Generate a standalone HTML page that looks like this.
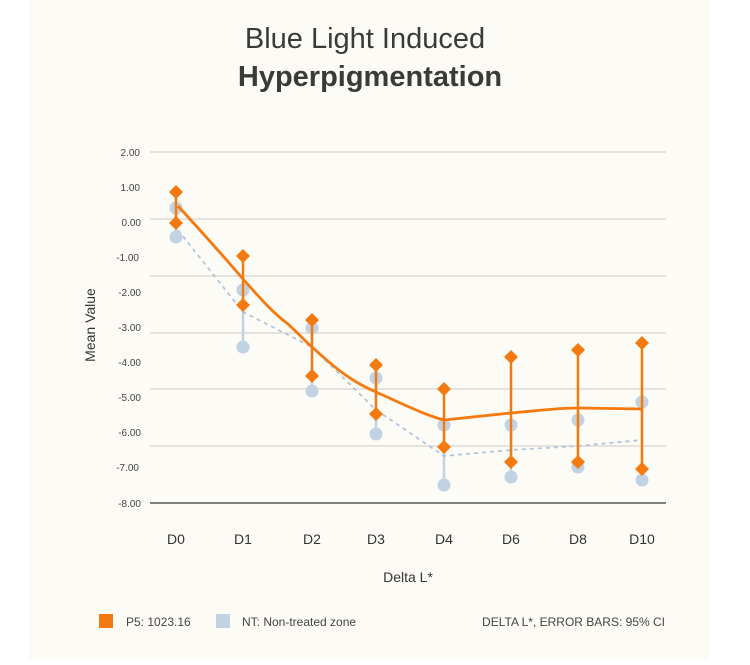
<!DOCTYPE html>
<html><head><style>
body{margin:0;background:#fff;width:750px;height:660px;overflow:hidden;font-family:"Liberation Sans",sans-serif}
</style></head><body>
<svg width="750" height="660" xmlns="http://www.w3.org/2000/svg" font-family="Liberation Sans, sans-serif">
<rect x="29" y="0" width="680" height="660" fill="#fdfbf6"/>
<text x="365" y="48" text-anchor="middle" font-size="29" fill="#3a3a3a">Blue Light Induced</text>
<text x="370" y="86" text-anchor="middle" font-size="29" font-weight="bold" fill="#3a3a3a">Hyperpigmentation</text>
<g stroke="#dedbd5" stroke-width="1.5">
<line x1="150" x2="666" y1="152" y2="152"/><line x1="150" x2="666" y1="219" y2="219"/>
<line x1="150" x2="666" y1="276" y2="276"/><line x1="150" x2="666" y1="333" y2="333"/>
<line x1="150" x2="666" y1="389" y2="389"/><line x1="150" x2="666" y1="446" y2="446"/>
</g>
<line x1="150" x2="666" y1="503" y2="503" stroke="#555" stroke-width="1.5"/>
<g font-size="10" fill="#444" text-anchor="end">
<text x="140" y="156">2.00</text><text x="140" y="191">1.00</text><text x="141" y="226">0.00</text>
<text x="139" y="261">-1.00</text><text x="141" y="296">-2.00</text><text x="141" y="331">-3.00</text>
<text x="141" y="366">-4.00</text><text x="141" y="401">-5.00</text><text x="141" y="436">-6.00</text>
<text x="139" y="471">-7.00</text><text x="141" y="507">-8.00</text>
</g>
<text transform="translate(95,325) rotate(-90)" text-anchor="middle" font-size="14" fill="#333">Mean Value</text>
<g font-size="14" fill="#333" text-anchor="middle">
<text x="176" y="544">D0</text><text x="243" y="544">D1</text><text x="312" y="544">D2</text><text x="376" y="544">D3</text>
<text x="444" y="544">D4</text><text x="511" y="544">D6</text><text x="578" y="544">D8</text><text x="642" y="544">D10</text>
<text x="408" y="582">Delta L*</text>
</g>
<g stroke="#c1d2e2" stroke-width="2.5">
<line x1="176" x2="176" y1="208" y2="237"/><line x1="243" x2="243" y1="290" y2="347"/>
<line x1="312" x2="312" y1="328" y2="391"/><line x1="376" x2="376" y1="378" y2="434"/>
<line x1="444" x2="444" y1="425" y2="485"/><line x1="511" x2="511" y1="425" y2="477"/>
<line x1="578" x2="578" y1="420" y2="467"/><line x1="642" x2="642" y1="402" y2="480"/>
</g>
<polyline points="178,230 243,312 312,347 376,410 444,456 511,450 578,446 642,440" fill="none" stroke="#b0c5dc" stroke-width="1.8" stroke-dasharray="4,4"/>
<g fill="#c1d2e2">
<circle cx="176" cy="208" r="6.5"/><circle cx="176" cy="237" r="6.5"/>
<circle cx="243" cy="290" r="6.5"/><circle cx="243" cy="347" r="6.5"/>
<circle cx="312" cy="328" r="6.5"/><circle cx="312" cy="391" r="6.5"/>
<circle cx="376" cy="378" r="6.5"/><circle cx="376" cy="434" r="6.5"/>
<circle cx="444" cy="425" r="6.5"/><circle cx="444" cy="485" r="6.5"/>
<circle cx="511" cy="425" r="6.5"/><circle cx="511" cy="477" r="6.5"/>
<circle cx="578" cy="420" r="6.5"/><circle cx="578" cy="467" r="6.5"/>
<circle cx="642" cy="402" r="6.5"/><circle cx="642" cy="480" r="6.5"/>
</g>
<path d="M178,206 C200,230 225,258 243,279 C260,298 272,312 288,324 C300,335 306,342 312,347 C335,368 352,382 376,392 C405,405 425,415 444,420 L511,413 C535,411 555,408 578,408 L642,409" fill="none" stroke="#f47a10" stroke-width="2.8"/>
<g stroke="#f47a10" stroke-width="2.5">
<line x1="176" x2="176" y1="192" y2="223"/><line x1="243" x2="243" y1="256" y2="305"/>
<line x1="312" x2="312" y1="320" y2="376"/><line x1="376" x2="376" y1="365" y2="414"/>
<line x1="444" x2="444" y1="389" y2="447"/><line x1="511" x2="511" y1="357" y2="462"/>
<line x1="578" x2="578" y1="350" y2="462"/><line x1="642" x2="642" y1="343" y2="469"/>
</g>
<g fill="#f47a10">
<path d="M176,185 l7,7 l-7,7 l-7,-7z"/><path d="M176,216 l7,7 l-7,7 l-7,-7z"/>
<path d="M243,249 l7,7 l-7,7 l-7,-7z"/><path d="M243,298 l7,7 l-7,7 l-7,-7z"/>
<path d="M312,313 l7,7 l-7,7 l-7,-7z"/><path d="M312,369 l7,7 l-7,7 l-7,-7z"/>
<path d="M376,358 l7,7 l-7,7 l-7,-7z"/><path d="M376,407 l7,7 l-7,7 l-7,-7z"/>
<path d="M444,382 l7,7 l-7,7 l-7,-7z"/><path d="M444,440 l7,7 l-7,7 l-7,-7z"/>
<path d="M511,350 l7,7 l-7,7 l-7,-7z"/><path d="M511,455 l7,7 l-7,7 l-7,-7z"/>
<path d="M578,343 l7,7 l-7,7 l-7,-7z"/><path d="M578,455 l7,7 l-7,7 l-7,-7z"/>
<path d="M642,336 l7,7 l-7,7 l-7,-7z"/><path d="M642,462 l7,7 l-7,7 l-7,-7z"/>
</g>
<rect x="99" y="614" width="14" height="14" fill="#f47a10"/>
<text x="126" y="626" font-size="12" fill="#444">P5: 1023.16</text>
<rect x="216" y="614" width="14" height="14" fill="#c1d2e2"/>
<text x="242" y="626" font-size="12" fill="#444">NT: Non-treated zone</text>
<text x="665" y="626" font-size="12" fill="#444" text-anchor="end">DELTA L*, ERROR BARS: 95% CI</text>
</svg>
</body></html>
